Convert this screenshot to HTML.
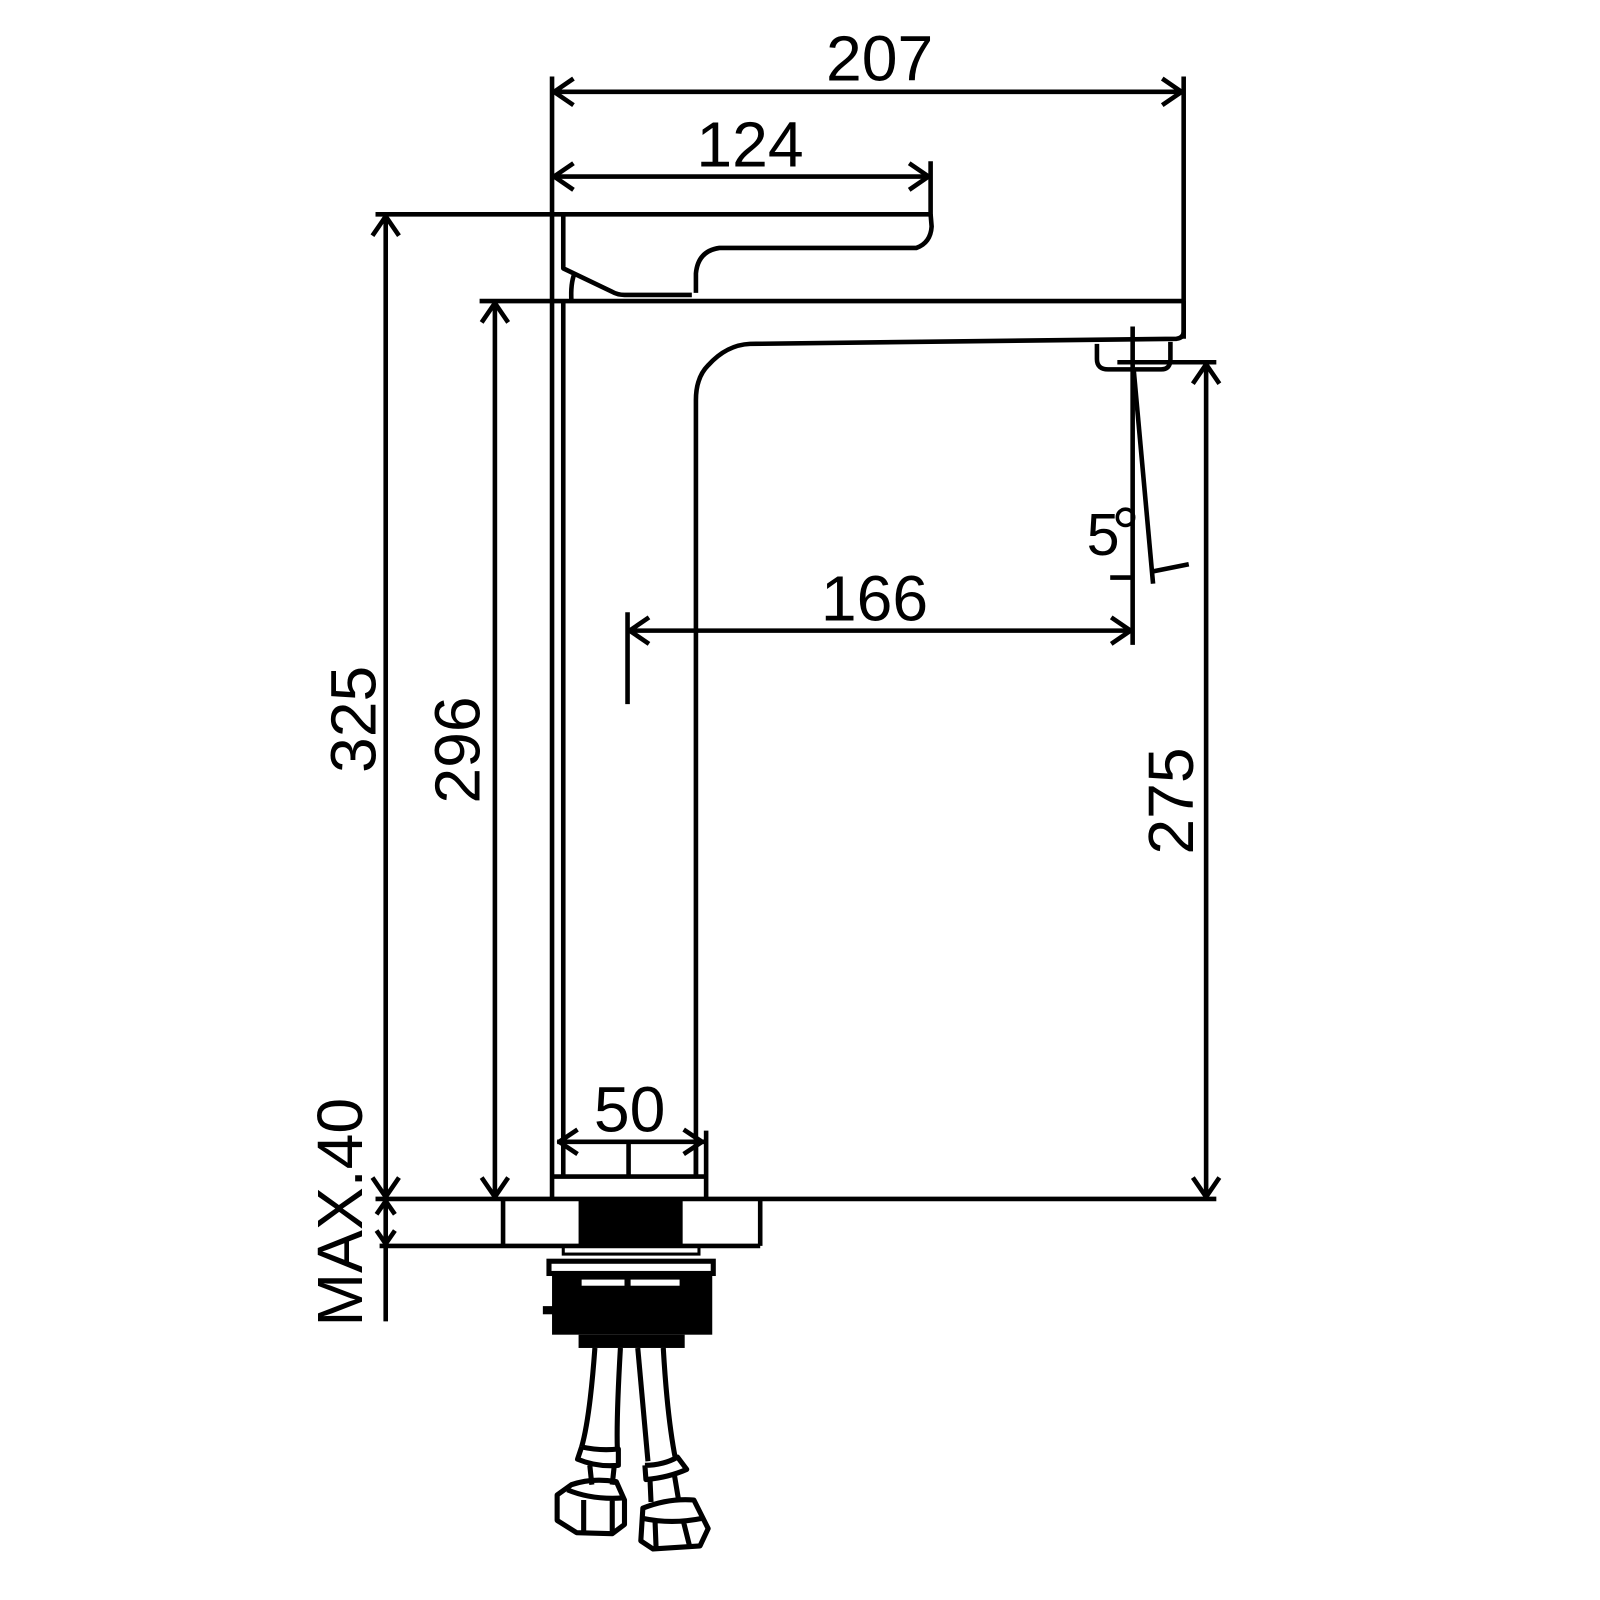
<!DOCTYPE html>
<html><head><meta charset="utf-8"><style>
html,body{margin:0;padding:0;background:#fff}
svg{display:block}
text{font-family:"Liberation Sans",Arial,sans-serif;fill:#000}
</style></head><body>
<svg width="1600" height="1600" viewBox="0 0 1568 1568" xmlns="http://www.w3.org/2000/svg">
<g fill="none" stroke="#000" stroke-width="4.5" stroke-linejoin="round">
<line x1="541" y1="75" x2="541" y2="1175"/>
<line x1="1160" y1="75" x2="1160" y2="332"/>
<line x1="541" y1="90" x2="1160" y2="90"/>
<polyline points="562,77 543,90 562,103"/>
<polyline points="1139,77 1158,90 1139,103"/>
<line x1="541" y1="173" x2="912" y2="173"/>
<line x1="912" y1="158" x2="912" y2="212"/>
<polyline points="562,160 543,173 562,186"/>
<polyline points="891,160 910,173 891,186"/>
<line x1="368" y1="210" x2="912" y2="210"/>
<path d="M912,210 L913,222 Q912,238 898,243 L705,243 Q684,246 682,268 L682,287"/>
<path d="M552,210 L552,263 L600,286 Q605,289 612,289 L678,289"/>
<path d="M563,268 Q559,278 560,295"/>
<line x1="470" y1="295" x2="1160" y2="295"/>
<line x1="552" y1="295" x2="552" y2="1153"/>
<path d="M1160,295 L1160,325 Q1160,331 1153,332 L735,337 Q712,338 694,358 Q682,370 682,392 L682,1153"/>
<path d="M1075,337 L1075,352 Q1075,362 1086,362 L1138,362 Q1147,362 1147,352 L1147,335"/>
<line x1="1110" y1="320" x2="1110" y2="632"/>
<line x1="1111" y1="362" x2="1130" y2="572"/>
<line x1="1130" y1="560" x2="1165" y2="553"/>
<line x1="1088" y1="566" x2="1110" y2="566"/>
<circle cx="1103" cy="507" r="8" stroke-width="3.5"/>
<line x1="615" y1="600" x2="615" y2="690"/>
<line x1="615" y1="618" x2="1110" y2="618"/>
<polyline points="636,605 617,618 636,631"/>
<polyline points="1089,605 1108,618 1089,631"/>
<line x1="1095" y1="355" x2="1192" y2="355"/>
<line x1="1182" y1="355" x2="1182" y2="1175"/>
<polyline points="1169,376 1182,357 1195,376"/>
<polyline points="1169,1154 1182,1173 1195,1154"/>
<line x1="368" y1="1175" x2="1192" y2="1175"/>
<line x1="378" y1="210" x2="378" y2="1175"/>
<polyline points="365,231 378,212 391,231"/>
<polyline points="365,1154 378,1173 391,1154"/>
<line x1="485" y1="295" x2="485" y2="1175"/>
<polyline points="472,316 485,297 498,316"/>
<polyline points="472,1154 485,1173 498,1154"/>
<line x1="378" y1="1175" x2="378" y2="1295"/>
<line x1="372" y1="1221" x2="745" y2="1221"/>
<polyline points="369,1190 378,1177 387,1190"/>
<polyline points="369,1206 378,1219 387,1206"/>
<line x1="745" y1="1175" x2="745" y2="1221"/>
<line x1="493" y1="1175" x2="493" y2="1221"/>
<line x1="546" y1="1119" x2="690" y2="1119"/>
<line x1="692" y1="1108" x2="692" y2="1175"/>
<polyline points="566,1107 548,1119 566,1131"/>
<polyline points="670,1107 688,1119 670,1131"/>
<line x1="541" y1="1153" x2="692" y2="1153"/>
<line x1="616" y1="1119" x2="616" y2="1153"/>
<line x1="682" y1="1119" x2="682" y2="1153"/>
</g>
<rect x="567" y="1175" width="102" height="46" fill="#000"/>
<rect x="552" y="1221" width="133" height="8" fill="none" stroke="#000" stroke-width="3"/>
<rect x="538" y="1236" width="161" height="12" fill="none" stroke="#000" stroke-width="5"/>
<rect x="541" y="1248" width="157" height="60" fill="#000"/>
<rect x="570" y="1254" width="42" height="6" fill="#fff"/>
<rect x="618" y="1254" width="48" height="6" fill="#fff"/>
<rect x="532" y="1280" width="10" height="8" fill="#000"/>
<rect x="567" y="1308" width="104" height="13" fill="#000"/>
<g fill="none" stroke="#000" stroke-width="5" stroke-linejoin="round">
<path d="M583,1321 Q578,1390 570,1418"/>
<path d="M608,1321 Q604,1390 605,1420"/>
<path d="M625,1321 L635,1432"/>
<path d="M650,1321 Q654,1390 662,1430"/>
<path d="M570,1418 L566,1430 Q585,1438 606,1436 L606,1420 Q588,1422 570,1418"/>
<path d="M632,1436 L633,1450 Q655,1448 673,1440 L664,1428 Q650,1436 632,1436"/>
<path d="M578,1436 L580,1455 M602,1436 L600,1455"/>
<path d="M637,1450 L638,1472 M661,1446 L665,1470"/>
<path d="M560,1455 Q580,1448 604,1452 L612,1470 L612,1494 L600,1503 L565,1502 L546,1490 L546,1465 Z"/>
<path d="M556,1460 Q580,1470 610,1468 M572,1470 L572,1502 M600,1470 L600,1503"/>
<path d="M630,1478 Q655,1468 680,1470 L694,1498 L686,1515 L640,1518 L628,1510 Z"/>
<path d="M630,1488 Q658,1494 688,1488 M642,1492 L643,1518 M670,1492 L676,1516"/>
</g>
<g font-size="63">
<text x="862" y="79" text-anchor="middle">207</text>
<text x="735" y="163" text-anchor="middle">124</text>
<text x="857" y="608" text-anchor="middle">166</text>
<text x="617" y="1109" text-anchor="middle">50</text>
<text x="1081" y="544" text-anchor="middle" font-size="58">5</text>
<text transform="translate(368,705) rotate(-90)" text-anchor="middle">325</text>
<text transform="translate(470,735) rotate(-90)" text-anchor="middle">296</text>
<text transform="translate(1169,785) rotate(-90)" text-anchor="middle">275</text>
<text transform="translate(355,1188) rotate(-90)" text-anchor="middle">MAX.40</text>
</g>
</svg>
</body></html>
